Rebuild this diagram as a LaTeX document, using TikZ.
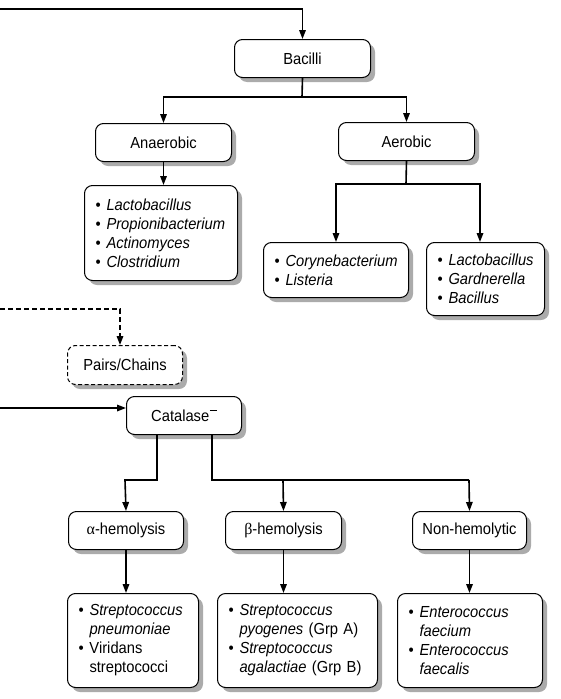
\documentclass[tikz,border=0pt]{standalone}
\usepackage{fontspec}
\setmainfont{Liberation Sans}[FakeStretch=0.92]
\newfontfamily\grk{Liberation Serif}
\usetikzlibrary{arrows.meta,shadows}
\newcommand\bul{\makebox[11pt][l]{•}}
\newcommand\ind{\hspace*{11pt}}
\begin{document}
\begin{tikzpicture}[x=1pt,y=-1pt,
  every node/.style={font=\fontsize{16}{19}\selectfont},
  boxbase/.style={draw=black, line width=1pt, rounded corners=8pt, fill=white,
    drop shadow={shadow xshift=4.5pt, shadow yshift=-4.5pt, fill=black!33, opacity=1},
    anchor=north west, inner sep=0pt},
  hbox/.style={boxbase, align=center},
  dbox/.style={boxbase, dash pattern=on 4pt off 2.5pt, align=center},
  lbox/.style={boxbase, align=left, inner xsep=11pt},
  conn/.style={line width=1.6pt, line join=miter},
  arr/.style={conn, -{Triangle[length=9pt,width=6.5pt]}},
  darr/.style={arr, dash pattern=on 5pt off 3pt}]
\useasboundingbox (0,0) rectangle (561,699);

% nodes
\node[hbox, minimum width=136pt, minimum height=38pt] (bacilli) at (234,39) {Bacilli};
\node[hbox, minimum width=136pt, minimum height=38pt] (anaer) at (95,123) {Anaerobic};
\node[hbox, minimum width=136pt, minimum height=38pt] (aer) at (338,122) {Aerobic};
\node[lbox, minimum width=153pt, minimum height=95pt, text width=131pt] (anlist) at (84,185)
  {\bul\textit{Lactobacillus}\\\bul\textit{Propionibacterium}\\\bul\textit{Actinomyces}\\\bul\textit{Clostridium}};
\node[lbox, minimum width=145pt, minimum height=55pt, text width=123pt] (coryne) at (263,242)
  {\bul\textit{Corynebacterium}\\\bul\textit{Listeria}};
\node[lbox, minimum width=118pt, minimum height=73pt, text width=96pt] (lacto) at (426,242)
  {\bul\textit{Lactobacillus}\\\bul\textit{Gardnerella}\\\bul\textit{Bacillus}};
\node[dbox, minimum width=115pt, minimum height=39pt] (pairs) at (67,345) {Pairs/Chains};
\node[hbox, minimum width=115pt, minimum height=38pt] (catal) at (126,396)
  {Catalase\kern0.5pt\raisebox{10pt}{\rule{7pt}{1.3pt}}};
\node[hbox, minimum width=115pt, minimum height=38pt] (alpha) at (68,511) {{\grk α}-hemolysis};
\node[hbox, minimum width=116pt, minimum height=38pt] (beta) at (225,511) {{\grk β}-hemolysis};
\node[hbox, minimum width=114pt, minimum height=38pt] (nonh) at (412,511) {Non-hemolytic};
\node[lbox, minimum width=131pt, minimum height=94pt, text width=109pt] (l1) at (67,593)
  {\bul\textit{Streptococcus}\\\ind\textit{pneumoniae}\\\bul Viridans\\\ind streptococci};
\node[lbox, minimum width=160pt, minimum height=94pt, text width=138pt] (l2) at (217,593)
  {\bul\textit{Streptococcus}\\\ind\textit{pyogenes} (Grp A)\\\bul\textit{Streptococcus}\\\ind\textit{agalactiae} (Grp B)};
\node[lbox, minimum width=145pt, minimum height=94pt, text width=123pt] (l3) at (397,593)
  {\bul\textit{Enterococcus}\\\ind\textit{faecium}\\\bul\textit{Enterococcus}\\\ind\textit{faecalis}};

% free ends
\coordinate (t0) at (0,9);
\coordinate (d0) at (0,309);
\coordinate (s0) at (0,408);

% connectors
\draw[arr] (t0) -| (bacilli.north);
\draw[conn] (bacilli.south) -- (302,97);
\draw[arr] (302,97) -| (anaer.north);
\draw[arr] (302,97) -| (aer.north);
\draw[arr] (anaer.south) -- (anaer.south |- anlist.north);
\draw[conn] (aer.south) -- (406,184);
\draw[arr] (406,184) -| (coryne.north);
\draw[arr] (406,184) -| (480,0 |- lacto.north);
\draw[darr] (d0) -| (120,0 |- pairs.north);
\draw[arr] (s0) -- (s0 -| catal.west);
\draw[arr] (157,0 |- catal.south) |- (125,480) -- (alpha.north);
\draw[conn] (212,0 |- catal.south) |- (469,480);
\draw[arr] (469,480) -- (nonh.north);
\draw[arr] (283,480) -- (beta.north);
\draw[arr] (alpha.south) -- (alpha.south |- l1.north);
\draw[arr] (beta.south) -- (beta.south |- l2.north);
\draw[arr] (nonh.south) -- (nonh.south |- l3.north);
\end{tikzpicture}
\end{document}
